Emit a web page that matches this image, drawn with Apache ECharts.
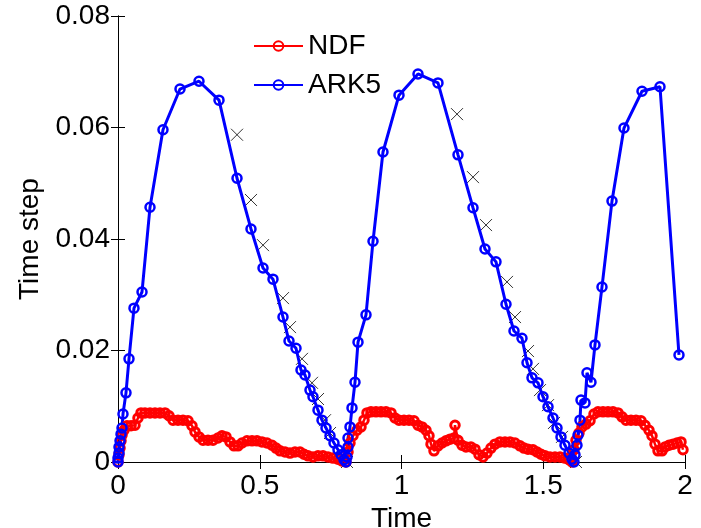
<!DOCTYPE html>
<html>
<head>
<meta charset="utf-8">
<script src="https://cdn.jsdelivr.net/npm/echarts@6/dist/echarts.min.js"></script>
<style>
  html, body { margin: 0; padding: 0; background: #fff; }
  #chart { width: 701px; height: 528px; }
</style>
</head>
<body>
<div id="chart"></div>
<script>
// NDF (red) - time and step size
const ndfT = [0, 0.0035, 0.0071, 0.0106, 0.0141, 0.0212, 0.0317, 0.0459, 0.0600, 0.0705,
  0.0811, 0.0952, 0.1129, 0.1305, 0.1481, 0.1658, 0.1799, 0.1940, 0.2116, 0.2293,
  0.2469, 0.2610, 0.2716, 0.2857, 0.2998, 0.3175, 0.3351, 0.3527, 0.3668, 0.3810,
  0.3951, 0.4092, 0.4233, 0.4374, 0.4550, 0.4727, 0.4903, 0.5079, 0.5256, 0.5432,
  0.5573, 0.5714, 0.5891, 0.6067, 0.6243, 0.6420, 0.6561, 0.6702, 0.6878, 0.7055,
  0.7231, 0.7407, 0.7584, 0.7760, 0.7901, 0.8042, 0.8113, 0.8183, 0.8289, 0.8430,
  0.8571, 0.8677, 0.8783, 0.8924, 0.9101, 0.9277, 0.9453, 0.9630, 0.9771, 0.9912,
  1.0088, 1.0265, 1.0441, 1.0582, 1.0723, 1.0864, 1.0970, 1.1041, 1.1146, 1.1287,
  1.1429, 1.1570, 1.1711, 1.1852, 1.1887, 1.1993, 1.2134, 1.2275, 1.2451, 1.2593,
  1.2734, 1.2875, 1.3016, 1.3157, 1.3298, 1.3474, 1.3651, 1.3827, 1.4004, 1.4180,
  1.4321, 1.4462, 1.4638, 1.4780, 1.4921, 1.5062, 1.5238, 1.5414, 1.5591, 1.5767,
  1.5908, 1.6014, 1.6085, 1.6155, 1.6261, 1.6367, 1.6508, 1.6649, 1.6790, 1.6931,
  1.7108, 1.7284, 1.7460, 1.7637, 1.7778, 1.7919, 1.8095, 1.8272, 1.8448, 1.8589,
  1.8730, 1.8836, 1.8942, 1.9048, 1.9189, 1.9295, 1.9436, 1.9577, 1.9718, 1.9859,
  1.9929]
const ndfV = [0, 0.0013, 0.0025, 0.0038, 0.0048, 0.0057, 0.0065, 0.0065, 0.0066, 0.0079,
  0.0088, 0.0088, 0.0088, 0.0088, 0.0088, 0.0088, 0.0083, 0.0075, 0.0075, 0.0075,
  0.0074, 0.0065, 0.0054, 0.0045, 0.0039, 0.0039, 0.0039, 0.0043, 0.0047, 0.0045,
  0.0036, 0.0029, 0.0029, 0.0034, 0.0038, 0.0038, 0.0038, 0.0036, 0.0034, 0.0030,
  0.0025, 0.0020, 0.0018, 0.0016, 0.0018, 0.0018, 0.0014, 0.0011, 0.0009, 0.0011,
  0.0011, 0.0009, 0.0007, 0.0005, 0.0002, 0, 0.0018, 0.0034, 0.0047, 0.0057,
  0.0063, 0.0075, 0.0088, 0.0090, 0.0090, 0.0090, 0.0090, 0.0088, 0.0079, 0.0075,
  0.0075, 0.0075, 0.0074, 0.0066, 0.0063, 0.0057, 0.0047, 0.0032, 0.0020, 0.0029,
  0.0034, 0.0038, 0.0041, 0.0043, 0.0066, 0.0039, 0.0030, 0.0027, 0.0027, 0.0023,
  0.0013, 0.0009, 0.0016, 0.0025, 0.0032, 0.0036, 0.0036, 0.0036, 0.0034, 0.0029,
  0.0025, 0.0023, 0.0022, 0.0018, 0.0014, 0.0011, 0.0009, 0.0009, 0.0009, 0.0007,
  0.0004, 0, 0.0022, 0.0039, 0.0052, 0.0063, 0.0068, 0.0074, 0.0086, 0.0090,
  0.0090, 0.0090, 0.0090, 0.0088, 0.0081, 0.0075, 0.0075, 0.0075, 0.0074, 0.0066,
  0.0057, 0.0047, 0.0032, 0.0020, 0.0020, 0.0027, 0.0030, 0.0032, 0.0034, 0.0036,
  0.0022]

// ARK5 (blue)
const arkT = [0, 0, 0.0035, 0.0035, 0.0071, 0.0106, 0.0141, 0.0176, 0.0282, 0.0388,
  0.0564, 0.0847, 0.1129, 0.1587, 0.2187, 0.2857, 0.3563, 0.4198, 0.4691, 0.5115,
  0.5467, 0.5820, 0.6032, 0.6279, 0.6455, 0.6596, 0.6772, 0.6878, 0.7055, 0.7196,
  0.7337, 0.7478, 0.7619, 0.7760, 0.7866, 0.7972, 0.8042, 0.8078, 0.8113, 0.8113,
  0.8183, 0.8254, 0.8360, 0.8466, 0.8748, 0.8995, 0.9347, 0.9912, 1.0582, 1.1287,
  1.1993, 1.2522, 1.2945, 1.3333, 1.3686, 1.3968, 1.4250, 1.4427, 1.4603, 1.4815,
  1.4991, 1.5168, 1.5344, 1.5485, 1.5626, 1.5767, 1.5908, 1.6014, 1.6085, 1.6120,
  1.6190, 1.6226, 1.6296, 1.6332, 1.6473, 1.6543, 1.6684, 1.6825, 1.7072, 1.7425,
  1.7848, 1.8483, 1.9118, 1.9788]
const arkV = [0, 0.0007, 0.0016, 0.0027, 0.0038, 0.0050, 0.0061, 0.0086, 0.0124, 0.0185,
  0.0276, 0.0305, 0.0457, 0.0596, 0.0669, 0.0683, 0.0649, 0.0509, 0.0418, 0.0348,
  0.0328, 0.0260, 0.0217, 0.0204, 0.0165, 0.0156, 0.0129, 0.0117, 0.0093, 0.0075,
  0.0061, 0.0047, 0.0034, 0.0022, 0.0013, 0.0004, 0, 0.0009, 0.0027, 0.0043,
  0.0063, 0.0097, 0.0143, 0.0215, 0.0264, 0.0396, 0.0556, 0.0658, 0.0696, 0.0680,
  0.0551, 0.0456, 0.0382, 0.0359, 0.0283, 0.0235, 0.0222, 0.0178, 0.0151, 0.0142,
  0.0117, 0.0099, 0.0079, 0.0061, 0.0045, 0.0030, 0.0016, 0.0005, 0, 0.0013,
  0.0030, 0.0048, 0.0075, 0.0111, 0.0106, 0.0160, 0.0143, 0.0210, 0.0314, 0.0468,
  0.0599, 0.0665, 0.0673, 0.0192]

// black crosses (not in legend)
const crossT = [0.4198, 0.4691, 0.5115, 0.5820, 0.6067, 0.6490, 0.6843, 0.7055, 0.7302, 0.7478, 0.8078,
  1.1958, 1.2522, 1.2981, 1.3721, 1.4004, 1.4462, 1.4638, 1.4885, 1.5168, 1.5379, 1.5661, 1.6155]
const crossV = [0.0587, 0.0470, 0.0389, 0.0294, 0.0242, 0.0185, 0.0142, 0.0113, 0.0075, 0.0052, 0,
  0.0624, 0.0511, 0.0425, 0.0323, 0.0260, 0.0199, 0.0167, 0.0129, 0.0102, 0.0070, 0.0045, 0]

const xTicks = [0, 0.5, 1, 1.5, 2]
const yTicks = [0, 0.02, 0.04, 0.06, 0.08]

const zip = (a, b) => a.map((v, i) => [v, b[i]])
const font = 'Liberation Sans, Arial, sans-serif'

const axisBase = {
  type: 'value',
  axisLine: {show: true, lineStyle: {color: '#000', width: 1}},
  axisTick: {show: true, inside: true, length: 7, lineStyle: {color: '#000'}},
  splitLine: {show: false}
}

const chart = echarts.init(document.getElementById('chart'), null, {renderer: 'canvas'})
chart.setOption({
  animation: false,
  backgroundColor: '#fff',
  grid: {left: 118, right: 16, top: 16, bottom: 66, outerBoundsMode: 'none', containLabel: false},
  legend: {
    data: ['NDF', 'ARK5'],
    orient: 'vertical',
    left: 248,
    top: 27,
    itemWidth: 49,
    itemHeight: 12,
    itemGap: 11,
    textStyle: {fontSize: 28, color: '#000', fontFamily: font}
  },
  xAxis: [
    {
      ...axisBase, position: 'bottom',
      min: xTicks[0], max: xTicks[xTicks.length - 1], interval: 0.5,
      axisLabel: {color: '#000', fontSize: 28, fontFamily: font, margin: 10},
      name: 'Time', nameLocation: 'middle', nameGap: 32,
      nameTextStyle: {color: '#000', fontSize: 28, fontFamily: font}
    },
    {
      ...axisBase, position: 'top',
      min: xTicks[0], max: xTicks[xTicks.length - 1], interval: 0.5,
      axisLabel: {show: false}
    }
  ],
  yAxis: [
    {
      ...axisBase, position: 'left',
      min: yTicks[0], max: yTicks[yTicks.length - 1], interval: 0.02,
      axisLabel: {color: '#000', fontSize: 28, fontFamily: font, margin: 8},
      name: 'Time step', nameLocation: 'middle', nameGap: 74,
      nameTextStyle: {color: '#000', fontSize: 28, fontFamily: font}
    },
    {
      ...axisBase, position: 'right',
      min: yTicks[0], max: yTicks[yTicks.length - 1], interval: 0.02,
      axisLabel: {show: false}
    }
  ],
  series: [
    {
      name: 'NDF',
      type: 'line',
      data: zip(ndfT, ndfV),
      symbol: 'circle',
      symbolSize: 8.5,
      itemStyle: {color: 'rgba(255,0,0,0)', borderColor: '#ff0000', borderWidth: 3},
      lineStyle: {color: '#ff0000', width: 2.5}
    },
    {
      name: 'ARK5',
      type: 'line',
      data: zip(arkT, arkV),
      symbol: 'circle',
      symbolSize: 9,
      itemStyle: {color: 'rgba(0,0,255,0)', borderColor: '#0000ff', borderWidth: 2.5},
      lineStyle: {color: '#0000ff', width: 3}
    },
    {
      name: 'cross',
      type: 'scatter',
      data: zip(crossT, crossV),
      symbol: 'path://M0,0L10,10M10,0L0,10',
      symbolSize: 12,
      itemStyle: {color: 'rgba(0,0,0,0)', borderColor: '#000', borderWidth: 1}
    }
  ]
})
</script>
</body>
</html>
